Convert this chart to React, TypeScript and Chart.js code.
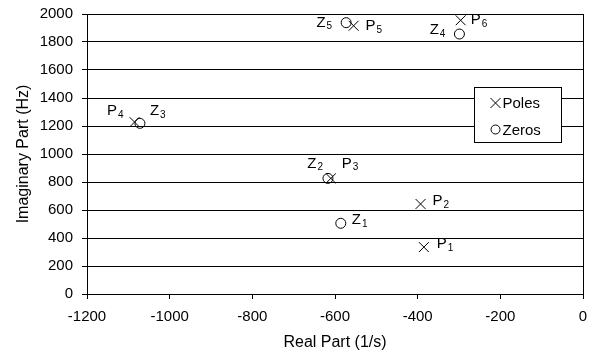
import React, { useEffect, useRef } from 'react';
import { Chart, registerables } from 'chart.js';
Chart.register(...registerables);

// ---- data ----
const poleReal = [-385, -393, -610, -1085, -555, -296];
const poleImag = [335, 643, 826, 1228, 1916, 1955];
const poleSubs = ['1', '2', '3', '4', '5', '6'];
const zeroReal = [-586, -617, -1072, -299, -573];
const zeroImag = [505, 826, 1219, 1857, 1938];
const zeroSubs = ['1', '2', '3', '4', '5'];
const xTicks = [-1200, -1000, -800, -600, -400, -200, 0];
const yTicks = [0, 200, 400, 600, 800, 1000, 1200, 1400, 1600, 1800, 2000];
const seriesNames = ['Poles', 'Zeros'];
const xTitle = 'Real Part (1/s)';
const yTitle = 'Imaginary Part (Hz)';

// label placement relative to the marker: side, dx, dy (pixels)
const poleLabelPlace: [string, number, number][] = [
  ['r', 13, -3], ['r', 12, -3], ['r', 11, -15], ['l', -11, -11], ['r', 12, 0], ['r', 10, 0],
];
const zeroLabelPlace: [string, number, number][] = [
  ['r', 11, -3], ['l', -5, -15], ['r', 10, -12], ['l', -14, -4], ['l', -14, 0],
];

const FONT = 'Arial, "Liberation Sans", sans-serif';

const labelPlugin = {
  id: 'pzLabels',
  afterDraw(chart: any) {
    const ctx = chart.ctx;
    const ca = chart.chartArea;
    ctx.save();
    // plot border
    ctx.strokeStyle = '#000';
    ctx.lineWidth = 1;
    ctx.strokeRect(Math.round(ca.left) + 0.5, Math.round(ca.top) + 0.5, Math.round(ca.right - ca.left), Math.round(ca.bottom - ca.top));

    const drawLabel = (letter: string, sub: string, x: number, y: number, place: [string, number, number]) => {
      const [side, dx, dy] = place;
      ctx.font = `15px ${FONT}`;
      const w1 = ctx.measureText(letter).width;
      ctx.font = `10px ${FONT}`;
      const w2 = ctx.measureText(sub).width;
      const total = w1 + 1 + w2;
      let sx = x + dx;
      if (side === 'l') sx = x + dx - total;
      const cy = y + dy;
      ctx.fillStyle = '#000';
      ctx.textBaseline = 'middle';
      ctx.textAlign = 'left';
      ctx.font = `15px ${FONT}`;
      ctx.fillText(letter, sx, cy);
      ctx.font = `10px ${FONT}`;
      ctx.fillText(sub, sx + w1 + 1, cy + 4);
    };
    const pm = chart.getDatasetMeta(0);
    pm.data.forEach((el: any, i: number) => drawLabel('P', poleSubs[i], el.x, el.y, poleLabelPlace[i]));
    const zm = chart.getDatasetMeta(1);
    zm.data.forEach((el: any, i: number) => drawLabel('Z', zeroSubs[i], el.x, el.y, zeroLabelPlace[i]));

    // legend box
    const lx = Math.round(ca.right - 109) + 0.5;
    const ly = Math.round(ca.top + 73) + 0.5;
    const lw = 87;
    const lh = 55;
    ctx.fillStyle = '#fff';
    ctx.fillRect(lx, ly, lw, lh);
    ctx.strokeStyle = '#000';
    ctx.strokeRect(lx, ly, lw, lh);
    // pole symbol
    const c1x = lx + 21, c1y = ly + 15.5;
    ctx.beginPath();
    ctx.moveTo(c1x - 5, c1y - 5); ctx.lineTo(c1x + 5, c1y + 5);
    ctx.moveTo(c1x - 5, c1y + 5); ctx.lineTo(c1x + 5, c1y - 5);
    ctx.stroke();
    const c2x = lx + 21, c2y = ly + 42;
    ctx.beginPath();
    ctx.arc(c2x, c2y, 4.5, 0, Math.PI * 2);
    ctx.stroke();
    ctx.fillStyle = '#000';
    ctx.font = `15px ${FONT}`;
    ctx.textBaseline = 'middle';
    ctx.fillText(seriesNames[0], lx + 28, c1y + 1);
    ctx.fillText(seriesNames[1], lx + 28, c2y + 1);
    ctx.restore();
  },
};

export default function App() {
  const ref = useRef<HTMLCanvasElement>(null);
  useEffect(() => {
    if (!ref.current) return;
    const chart = new Chart(ref.current, {
      type: 'scatter',
      data: {
        datasets: [
          {
            label: seriesNames[0],
            data: poleReal.map((x, i) => ({ x, y: poleImag[i] })),
            pointStyle: 'crossRot',
            pointRadius: 7,
            borderColor: '#000',
            backgroundColor: '#000',
            borderWidth: 1,
          },
          {
            label: seriesNames[1],
            data: zeroReal.map((x, i) => ({ x, y: zeroImag[i] })),
            pointStyle: 'circle',
            pointRadius: 5,
            borderColor: '#000',
            backgroundColor: 'rgba(0,0,0,0)',
            borderWidth: 1,
          },
        ],
      },
      options: {
        animation: false,
        responsive: false,
        events: [],
        layout: { padding: { top: 14, right: 6, left: 0, bottom: 0 } },
        plugins: { legend: { display: false }, tooltip: { enabled: false } },
        scales: {
          x: {
            type: 'linear',
            min: xTicks[0],
            max: xTicks[xTicks.length - 1],
            afterFit: (s: any) => { s.height = 60; s.paddingLeft = 0; s.paddingRight = 0; },
            afterBuildTicks: (s: any) => { s.ticks = xTicks.map((v) => ({ value: v })); },
            grid: { display: true, drawOnChartArea: false, drawTicks: true, tickLength: 5, color: '#000' },
            border: { display: true, color: '#000' },
            ticks: { color: '#000', font: { family: FONT, size: 15 }, padding: 9, maxRotation: 0, callback: (v: any) => String(v) },
            title: { display: true, text: xTitle, color: '#000', font: { family: FONT, size: 16 }, padding: { top: 0, bottom: 1.5 } },
          },
          y: {
            type: 'linear',
            min: yTicks[0],
            max: yTicks[yTicks.length - 1],
            afterFit: (s: any) => { s.width = 87; s.paddingTop = 0; s.paddingBottom = 0; },
            afterBuildTicks: (s: any) => { s.ticks = yTicks.map((v) => ({ value: v })); },
            grid: { display: true, drawOnChartArea: true, drawTicks: true, tickLength: 5, color: '#000' },
            border: { display: true, color: '#000' },
            ticks: { color: '#000', font: { family: FONT, size: 15 }, padding: 9, callback: (v: any) => String(v) },
            title: { display: true, text: yTitle, color: '#000', font: { family: FONT, size: 16 }, padding: { top: 14, bottom: 0 } },
          },
        },
      },
      plugins: [labelPlugin],
    } as any);
    return () => chart.destroy();
  }, []);
  return (
    <div style={{ position: 'fixed', left: 0, top: 0, width: 591, height: 354, background: '#fff' }}>
      <canvas ref={ref} width={591} height={354} style={{ display: 'block' }} />
    </div>
  );
}
